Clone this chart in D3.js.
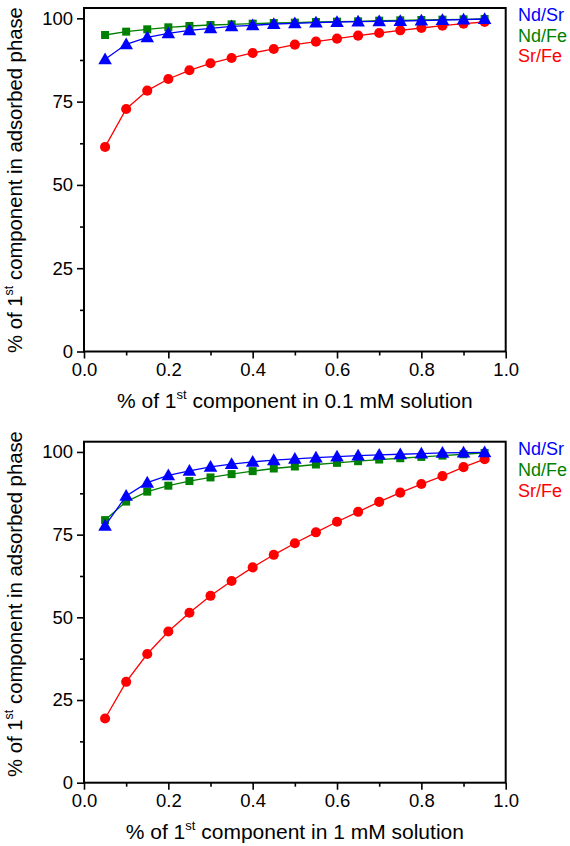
<!DOCTYPE html>
<html>
<head>
<meta charset="utf-8">
<script src="https://cdn.jsdelivr.net/npm/d3@7/dist/d3.min.js"></script>
<style>
  html, body { margin: 0; padding: 0; background: #fff; }
  svg { display: block; }
  text { font-family: Arial, "Liberation Sans", sans-serif; fill: #000; }
</style>
</head>
<body>
<svg id="chart" width="570" height="846"></svg>
<script>
// ---- data ----
const xValues = [0.05, 0.10, 0.15, 0.20, 0.25, 0.30, 0.35, 0.40, 0.45, 0.50,
                 0.55, 0.60, 0.65, 0.70, 0.75, 0.80, 0.85, 0.90, 0.95];

const seriesNames = ["Nd/Sr", "Nd/Fe", "Sr/Fe"];

// 0.1 mM solution
const top_NdSr = [87.7, 92.2, 94.3, 95.5, 96.4, 97.0, 97.6, 97.9, 98.3, 98.5,
                  98.7, 98.9, 99.0, 99.1, 99.2, 99.3, 99.5, 99.6, 99.8];
const top_NdFe = [95.0, 96.0, 96.7, 97.3, 97.7, 98.0, 98.2, 98.4, 98.6, 98.7,
                  98.9, 99.0, 99.1, 99.3, 99.4, 99.5, 99.6, 99.7, 99.8];
const top_SrFe = [61.4, 72.8, 78.3, 81.8, 84.4, 86.5, 88.1, 89.6, 90.8, 92.1,
                  93.0, 93.9, 94.8, 95.6, 96.4, 97.1, 97.8, 98.4, 98.9];

// 1 mM solution
const bot_NdSr = [77.7, 86.7, 90.7, 92.9, 94.3, 95.5, 96.3, 97.0, 97.5, 97.9,
                  98.3, 98.6, 98.9, 99.1, 99.3, 99.5, 99.7, 99.8, 99.9];
const bot_NdFe = [79.4, 85.0, 88.0, 89.8, 91.2, 92.3, 93.3, 94.2, 95.0, 95.6,
                  96.2, 96.7, 97.2, 97.7, 98.1, 98.5, 98.9, 99.3, 99.7];
const bot_SrFe = [19.4, 30.5, 38.9, 45.7, 51.4, 56.5, 61.0, 65.1, 68.9, 72.4,
                  75.7, 78.9, 81.9, 84.9, 87.7, 90.3, 92.7, 95.4, 97.8];

const xTicks = [0.0, 0.2, 0.4, 0.6, 0.8, 1.0];
const xMinorTicks = [0.1, 0.3, 0.5, 0.7, 0.9];
const yTicks = [0, 25, 50, 75, 100];
const yMinorTicks = [12.5, 37.5, 62.5, 87.5];

const xTitles = ["0.1 mM solution", "1 mM solution"];

// ---- drawing ----
const svg = d3.select("#chart");
const colors = {"Nd/Sr": "#0000ff", "Nd/Fe": "#008000", "Sr/Fe": "#ff0000"};
const FONT = "Arial, 'Liberation Sans', sans-serif";

const panels = [
  {top: 8, bottom: 351.5, data: {"Nd/Sr": top_NdSr, "Nd/Fe": top_NdFe, "Sr/Fe": top_SrFe},
   xTitle: xTitles[0], yTitleY: 180, legendY: [21, 41.5, 62]},
  {top: 441.7, bottom: 782.7, data: {"Nd/Sr": bot_NdSr, "Nd/Fe": bot_NdFe, "Sr/Fe": bot_SrFe},
   xTitle: xTitles[1], yTitleY: 604, legendY: [455, 475.5, 496.5]}
];

const left = 84, right = 505.7;

panels.forEach(p => {
  const g = svg.append("g");
  const x = d3.scaleLinear().domain([0, 1]).range([left, right]);
  const y = d3.scaleLinear().domain([0, 103.1]).range([p.bottom, p.top]);

  // minor ticks
  const xMinor = g.append("g").attr("transform", `translate(0,${y(0)})`)
    .call(d3.axisBottom(x).tickValues(xMinorTicks).tickSize(4).tickFormat(""));
  xMinor.select(".domain").remove();
  xMinor.selectAll("line").attr("stroke-width", 1.6);
  const yMinor = g.append("g").attr("transform", `translate(${left},0)`)
    .call(d3.axisLeft(y).tickValues(yMinorTicks).tickSize(4).tickFormat(""));
  yMinor.select(".domain").remove();
  yMinor.selectAll("line").attr("stroke-width", 1.6);

  // major axes
  const xAx = g.append("g").attr("transform", `translate(0,${y(0)})`)
    .call(d3.axisBottom(x).tickValues(xTicks).tickSize(7).tickPadding(4).tickFormat(d3.format(".1f")));
  xAx.select(".domain").remove();
  xAx.selectAll("line").attr("stroke-width", 1.6);
  xAx.selectAll("text").attr("font-size", 18.5).attr("font-family", FONT);

  const yAx = g.append("g").attr("transform", `translate(${left},0)`)
    .call(d3.axisLeft(y).tickValues(yTicks).tickSize(7).tickPadding(4).tickFormat(d3.format("d")));
  yAx.select(".domain").remove();
  yAx.selectAll("line").attr("stroke-width", 1.6);
  yAx.selectAll("text").attr("font-size", 18.5).attr("font-family", FONT);

  // frame
  g.append("rect")
    .attr("x", left).attr("y", p.top)
    .attr("width", right - left).attr("height", y(0) - p.top)
    .attr("fill", "none").attr("stroke", "#000").attr("stroke-width", 2);

  // series (Sr/Fe first, Nd/Sr on top)
  const order = ["Sr/Fe", "Nd/Fe", "Nd/Sr"];
  order.forEach(name => {
    const vals = p.data[name];
    const pts = xValues.map((xv, i) => [xv, vals[i]]);
    const line = d3.line().x(d => x(d[0])).y(d => y(d[1]));
    g.append("path").datum(pts)
      .attr("d", line).attr("fill", "none")
      .attr("stroke", colors[name]).attr("stroke-width", 1.3);
    let sym, size;
    if (name === "Sr/Fe") { sym = d3.symbolCircle; size = 80; }
    else if (name === "Nd/Fe") { sym = d3.symbolSquare; size = 64; }
    else { sym = d3.symbolTriangle; size = 80; }
    g.selectAll(null).data(pts).enter().append("path")
      .attr("d", d3.symbol().type(sym).size(size))
      .attr("transform", d => `translate(${x(d[0])},${y(d[1]) + (name === "Nd/Sr" ? 1 : 0)})`)
      .attr("fill", colors[name]);
  });

  // legend
  seriesNames.forEach((name, i) => {
    g.append("text").attr("x", 518).attr("y", p.legendY[i])
      .attr("font-size", 18).style("fill", colors[name]).text(name);
  });

  // x title
  const xt = g.append("text").attr("x", (left + right) / 2).attr("y", y(0) + 56)
    .attr("text-anchor", "middle").attr("font-size", 21);
  xt.append("tspan").text("% of 1");
  xt.append("tspan").attr("font-size", 13).attr("dy", -9).text("st");
  xt.append("tspan").attr("dy", 9).text(" component in " + p.xTitle);

  // y title
  const yt = g.append("text")
    .attr("transform", `translate(22,${p.yTitleY}) rotate(-90)`)
    .attr("text-anchor", "middle").attr("font-size", 20.3);
  yt.append("tspan").text("% of 1");
  yt.append("tspan").attr("font-size", 12.5).attr("dy", -9).text("st");
  yt.append("tspan").attr("dy", 9).text(" component in adsorbed phase");
});
</script>
</body>
</html>
